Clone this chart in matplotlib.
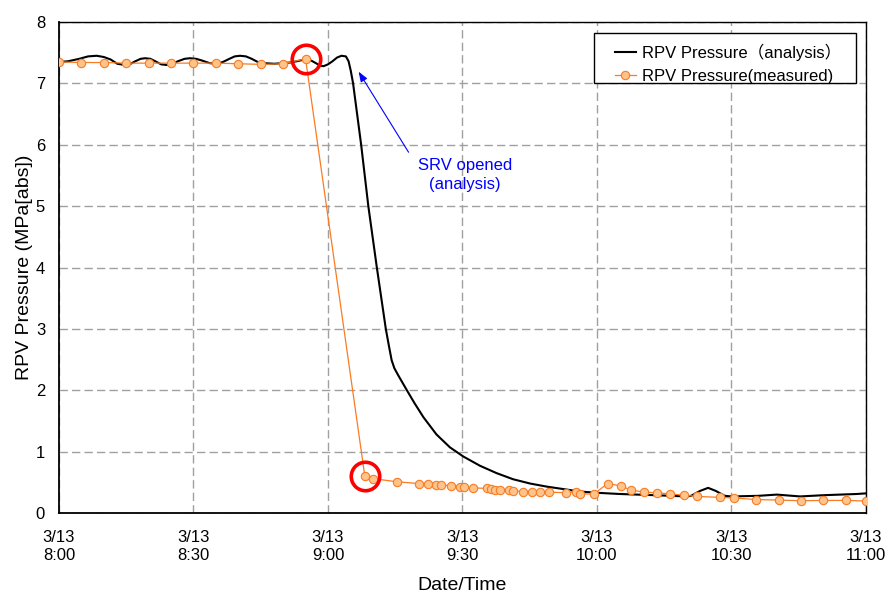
import matplotlib
matplotlib.use('Agg')
import matplotlib.pyplot as plt
from matplotlib.patches import Rectangle

plt.rcParams['font.family'] = ['Liberation Sans', 'Noto Sans CJK JP', 'DejaVu Sans']

# minutes after 3/13 8:00
analysis_min = [0, 2, 4.5, 6.5, 8.4, 10, 11.5, 13, 14.7, 16, 17, 18.2, 19.2, 20.4, 21.5,
                22.8, 24, 25.3, 26.5, 28, 29.2, 30.6, 32, 33.6, 35.2, 36.6, 38, 39.2,
                40.4, 41.7, 43, 44.3, 45.6, 48, 50, 51.5, 53, 54.2, 55.3, 56.3, 57.3,
                58.2, 59, 60, 61, 62, 63, 64, 64.6, 65.1, 65.6, 67.4, 69.0, 70.9, 72.9,
                73.6, 74.2, 74.8, 75.7, 77.6, 79.3, 81.3, 84.2, 87.2, 90.2, 93.9, 97.6,
                101.3, 105.1, 108.8, 112.5, 116.2, 119.9, 125, 133, 140, 141, 143, 144.8,
                146.5, 148.5, 150, 156, 160.1, 165.3, 170.5, 178, 180]
analysis_mpa = [7.35, 7.36, 7.40, 7.44, 7.45, 7.43, 7.39, 7.32, 7.30, 7.32, 7.36, 7.40,
                7.41, 7.40, 7.36, 7.31, 7.30, 7.32, 7.36, 7.40, 7.41, 7.40, 7.37, 7.33,
                7.32, 7.35, 7.40, 7.44, 7.45, 7.44, 7.40, 7.35, 7.33, 7.32, 7.33, 7.34,
                7.36, 7.38, 7.39, 7.37, 7.33, 7.29, 7.28, 7.31, 7.36, 7.42, 7.45, 7.44,
                7.36, 7.20, 7.00, 6.00, 5.00, 4.00, 3.00,
                2.72, 2.49, 2.36, 2.24, 2.00, 1.79, 1.56, 1.28, 1.07, 0.92, 0.77, 0.65,
                0.55, 0.48, 0.43, 0.39, 0.35,
                0.33, 0.31, 0.29, 0.27, 0.28, 0.36, 0.41, 0.36, 0.28, 0.27, 0.28, 0.30,
                0.27, 0.29, 0.31, 0.32]

measured_min = [0, 5, 10, 15, 20, 25, 30, 35, 40, 45, 50, 55, 68.2, 70, 75.3, 80.2,
                82.3, 84.2, 85.3, 87.4, 89.4, 90.3, 92.4, 95.4, 96.3, 97.2, 98.4, 100.4,
                101.3, 103.4, 105.4, 107.3, 109.4, 113.2, 115.3, 116.2, 119.3, 122.4,
                125.4, 127.5, 130.5, 133.5, 136.4, 139.5, 142.4, 147.4, 150.5, 155.5,
                160.5, 165.5, 170.5, 175.5, 180]
measured_mpa = [7.35, 7.34, 7.34, 7.33, 7.33, 7.33, 7.33, 7.33, 7.32, 7.31, 7.32, 7.40,
                0.61, 0.56, 0.51, 0.48, 0.48, 0.46, 0.455, 0.445, 0.43, 0.42, 0.41,
                0.40, 0.39, 0.38, 0.38, 0.37, 0.36, 0.35, 0.35, 0.35, 0.34, 0.33, 0.34,
                0.31, 0.31, 0.48, 0.44, 0.375, 0.34, 0.33, 0.31, 0.29, 0.27, 0.255,
                0.245, 0.22, 0.21, 0.20, 0.205, 0.205, 0.195]

highlight_idx = [11, 12]

tick_min = [0, 30, 60, 90, 120, 150, 180]
tick_labels = ['3/13\n8:00', '3/13\n8:30', '3/13\n9:00', '3/13\n9:30',
               '3/13\n10:00', '3/13\n10:30', '3/13\n11:00']

fig = plt.figure(figsize=(8.91, 5.95), dpi=100)
ax = fig.add_axes([0.0662, 0.1378, 0.9057, 0.8252])

ax.plot(analysis_min, analysis_mpa, color='black', lw=1.5,
        label='RPV Pressure（analysis）', zorder=3)
ax.plot(measured_min, measured_mpa, color='#F97B22', lw=0.9, marker='o', ms=6,
        mfc='#FFC38C', mec='#F97B22', mew=0.8, label='RPV Pressure(measured)', zorder=4)

# red circles on the two measured points around the jump
ax.plot([measured_min[i] for i in highlight_idx], [measured_mpa[i] for i in highlight_idx],
        ls='none', marker='o', ms=20.5, mfc='none', mec='#FF0000', mew=2.6, zorder=5)

ax.annotate('', xy=(66.5, 7.23), xytext=(78.3, 5.84),
            arrowprops=dict(arrowstyle='-|>,head_length=0.6,head_width=0.22',
                            color='#0000FF', lw=0.8))
ax.text(90.6, 5.51, 'SRV opened\n(analysis)', color='#0000FF', fontsize=12,
        ha='center', va='center', linespacing=1.3)

ax.set_xlim(0, 180)
ax.set_ylim(0, 8)
ax.set_xticks(tick_min)
ax.set_xticklabels(tick_labels, linespacing=1.3)
ax.set_yticks(range(0, 9))
ax.tick_params(axis='both', length=0, labelsize=12)
ax.tick_params(axis='x', pad=12)
ax.tick_params(axis='y', pad=10)

ax.grid(True, color='#A0A0A0', lw=1.0, ls=(0, (6, 3)))
ax.set_axisbelow(True)
for s in ax.spines.values():
    s.set_color('black')
    s.set_linewidth(1.0)
ax.spines['left'].set_linewidth(1.3)
ax.spines['bottom'].set_linewidth(1.3)

ax.set_xlabel('Date/Time', fontsize=14, labelpad=10)
ax.set_ylabel('RPV Pressure (MPa[abs])', fontsize=14, labelpad=2)

# legend box drawn separately so the padding matches the original
ax.add_patch(Rectangle((0.6628, 0.875), 0.3248, 0.102, transform=ax.transAxes,
                       facecolor='white', edgecolor='black', lw=1.0, zorder=6))
leg = ax.legend(loc='center left', bbox_to_anchor=(0.6889, 0.915), fontsize=12,
                frameon=False, borderpad=0, borderaxespad=0, handlelength=1.26,
                labelspacing=0.5, handletextpad=0.34)
leg.set_zorder(7)

fig.savefig('out.png', dpi=100)
